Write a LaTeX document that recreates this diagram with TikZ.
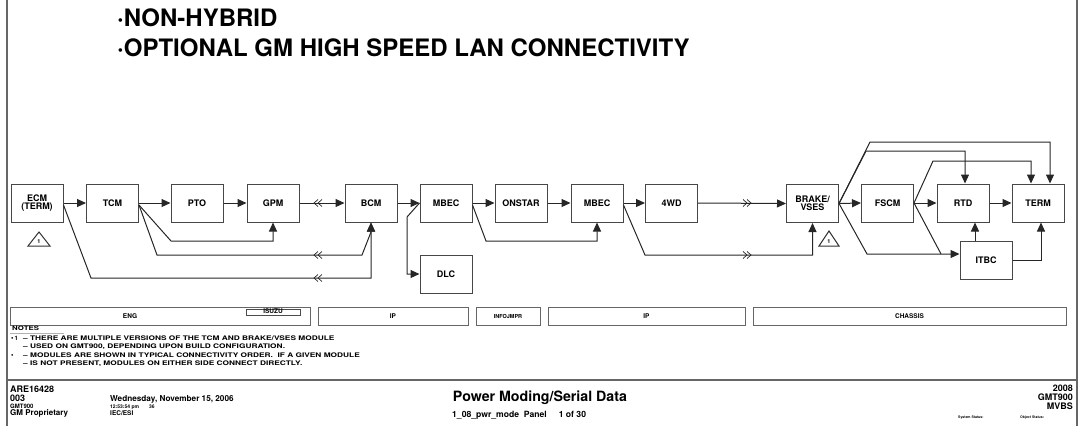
\documentclass[tikz,border=0pt]{standalone}
\usepackage{fontspec}
\setmainfont{TeX Gyre Heros}
\usetikzlibrary{arrows.meta}
\begin{document}
\begin{tikzpicture}[x=1pt,y=-1pt,
  fnt/.style={font=\bfseries\fontsize{#1}{#1}\selectfont},
  mod/.style={draw=black!72, line width=1pt, fill=white, minimum width=52pt, minimum height=38pt, inner sep=0pt, fnt=9, align=center},
  conn/.style={draw=black!85, line width=1pt},
  arr/.style={conn, -{Triangle[length=9pt,width=8pt]}},
  bar/.style={draw=black!60, line width=1pt, minimum height=18pt, inner sep=0pt, fnt=6.5},
  txt/.style={inner sep=0pt, anchor=base west},
  chevl/.pic={\draw[conn,line width=0.7pt] (2,-3.5) -- (-2,0) -- (2,3.5) (6,-3.5) -- (2,0) -- (6,3.5);},
  chevr/.pic={\draw[conn,line width=0.7pt] (-2,-3.5) -- (2,0) -- (-2,3.5) (-6,-3.5) -- (-2,0) -- (-6,3.5);}
]
\useasboundingbox (0,0) rectangle (1086,426);
% frame
\draw[black!60, line width=1.5pt] (7,0) -- (7,426);
\draw[black!60, line width=1.5pt] (1077,0) -- (1077,426);
\draw[black!60, line width=1.5pt] (7,380) -- (1077,380);

% title
\node[txt, fnt=24] (t1) at (117,26) {\textperiodcentered NON-HYBRID};
\node[txt, fnt=24] (t2) at (117,56) {\textperiodcentered OPTIONAL GM HIGH SPEED LAN CONNECTIVITY};

% modules
\node[mod] (ECM) at (37,203) {ECM\\[-1pt](TERM)};
\node[mod] (TCM) at (112.5,203) {TCM};
\node[mod] (PTO) at (197,203) {PTO};
\node[mod] (GPM) at (273,203) {GPM};
\node[mod] (BCM) at (371,203) {BCM};
\node[mod] (MB1) at (446,203) {MBEC};
\node[mod] (ONS) at (521,203) {ONSTAR};
\node[mod] (MB2) at (597,203) {MBEC};
\node[mod] (FWD) at (671.5,203) {4WD};
\node[mod] (BRK) at (812.5,203.5) {BRAKE/\\[-1pt]VSES};
\node[mod] (FSC) at (887.5,203) {FSCM};
\node[mod] (RTD) at (963,203) {RTD};
\node[mod] (TRM) at (1038,203) {TERM};
\node[mod] (DLC) at (446,274) {DLC};
\node[mod] (ITB) at (986,260) {ITBC};

% triangles
\draw[black!80, line width=1pt] (28,246) -- (39,232) -- (50,246) -- cycle;
\node[inner sep=0pt, fnt=5.5] (n1) at (39,241.5) {1};
\draw[black!80, line width=1pt] (819,246) -- (829,231) -- (839,246) -- cycle;
\node[inner sep=0pt, fnt=5.5] (n2) at (829,241.5) {1};

% connectors
\draw[arr] (ECM.east) -- (TCM.west);
\draw[arr] (TCM.east) -- (PTO.west);
\draw[arr] (PTO.east) -- (GPM.west);
\draw[arr] (GPM.east) -- (BCM.west);
\draw[arr] ([yshift=-2pt]ECM.east) -- (91,278) -- (371,278) -- (BCM.south);
\draw[arr] ([yshift=-2pt]TCM.east) -- (157,255) -- (362,255) -- (371,232) -- (BCM.south);
\draw[arr] ([yshift=-2pt]TCM.east) -- (171,241) -- (GPM.south |- 0,241) -- (GPM.south);
\pic at (316,203) {chevl};
\pic at (316,255) {chevl};
\pic at (316,278) {chevl};
\draw[arr] (BCM.east) -- (MB1.west);
\draw[arr] (MB1.west) -- (407,217) -- (407,274) -- (DLC.west);
\draw[arr] (MB1.east) -- (ONS.west);
\draw[arr] ([yshift=-2pt]MB1.east) -- (486,241) -- (MB2.south |- 0,241) -- (MB2.south);
\draw[arr] (ONS.east) -- (MB2.west);
\draw[arr] (MB2.east) -- (FWD.west);
\draw[arr] ([yshift=-2pt]MB2.east) -- (645,255) -- (BRK.south |- 0,255) -- (BRK.south);
\draw[arr] (FWD.east) -- (BRK.west);
\pic at (749,203) {chevr};
\pic at (749,255) {chevr};
\draw[arr] (BRK.east) -- (FSC.west);
\draw[arr] (BRK.east) -- (870,142) -- (1050,142) -- ([xshift=12pt]TRM.north);
\draw[arr] (BRK.east) -- (866,151) -- (965,151) -- ([xshift=2pt]RTD.north);
\draw[arr] (BRK.east) -- (867,254) -- ([yshift=6pt]ITB.west);
\draw[arr] (FSC.east) -- (RTD.west);
\draw[arr] (FSC.east) -- (933,161) -- (1031,161) -- ([xshift=-7pt]TRM.north);
\draw[conn] (FSC.east) -- (941,254);
\draw[arr] (RTD.east) -- (TRM.west);
\draw[arr] ([xshift=-11pt]ITB.north) -- ([xshift=12pt]RTD.south);
\draw[arr] (ITB.east) -- (1041,260) -- ([xshift=3pt]TRM.south);

% section bars
\node[bar, minimum width=300pt] (bENG) at (160,316) {};
\node[inner sep=0pt, fnt=6.5] (lENG) at (130,316.5) {ENG};
\node[draw=black!70, line width=0.8pt, minimum width=54pt, minimum height=6pt, inner sep=0pt] (bISU) at (273,312.5) {};
\node[inner sep=0pt, fnt=6.5] (lISU) at (273,311.5) {ISUZU};
\node[bar, minimum width=150pt] (bIP1) at (393,316) {IP};
\node[bar, minimum width=64pt, fnt=5.5] (bINF) at (508,316) {INFOJMPR};
\node[bar, minimum width=197pt] (bIP2) at (646.5,316) {IP};
\node[bar, minimum width=313pt] (bCHA) at (909.5,316) {CHASSIS};

% notes
\node[txt, fnt=6] (nh) at (12,330.5) {\scalebox{1.3}[1]{NOTES}};
\draw[black!30, line width=0.5pt] (10,333) -- (64,333);
\node[txt, fnt=7] (b1) at (11,340) {\textbullet{\fontsize{6}{6}\selectfont\,1}};
\node[txt, fnt=6.3] (l1) at (23,340) {\scalebox{1.32}[1]{-- THERE ARE MULTIPLE VERSIONS OF THE TCM AND BRAKE/VSES MODULE}};
\node[txt, fnt=6.3] (l2) at (23,348.5) {\scalebox{1.32}[1]{-- USED ON GMT900, DEPENDING UPON BUILD CONFIGURATION.}};
\node[txt, fnt=7] (b2) at (11,357) {\textbullet};
\node[txt, fnt=6.3] (l3) at (23,357) {\scalebox{1.32}[1]{-- MODULES ARE SHOWN IN TYPICAL CONNECTIVITY ORDER.\ \ IF A GIVEN MODULE}};
\node[txt, fnt=6.3] (l4) at (23,365.5) {\scalebox{1.32}[1]{-- IS NOT PRESENT, MODULES ON EITHER SIDE CONNECT DIRECTLY.}};

% footer
\node[txt, fnt=9] (f1) at (10,392) {ARE16428};
\node[txt, fnt=9] (f2) at (10,401) {003};
\node[txt, fnt=6] (f3) at (10,408) {GMT900};
\node[txt, fnt=8] (f4) at (10,415) {GM Proprietary};
\node[txt, fnt=8.2] (f5) at (110,401) {Wednesday, November 15, 2006};
\node[txt, fnt=5] (f6) at (110,408) {12:53:54 pm\hspace{10pt}36};
\node[txt, fnt=6.5] (f7) at (110,415) {IEC/ESI};
\node[inner sep=0pt, anchor=base, fnt=14.2] (f8) at (540,401) {Power Moding/Serial Data};
\node[txt, fnt=8.6] (f9) at (452,417) {1\_08\_pwr\_mode\ \ Panel\hspace{12pt}1 of 30};
\node[inner sep=0pt, anchor=base east, fnt=9] (g1) at (1073,391) {2008};
\node[inner sep=0pt, anchor=base east, fnt=9] (g2) at (1073,400) {GMT900};
\node[inner sep=0pt, anchor=base east, fnt=9] (g3) at (1073,409) {MVBS};
\node[txt, fnt=3.5] (g4) at (958,418) {System Status:};
\node[txt, fnt=3.5] (g5) at (1020,418) {Object Status:};
\end{tikzpicture}
\end{document}
